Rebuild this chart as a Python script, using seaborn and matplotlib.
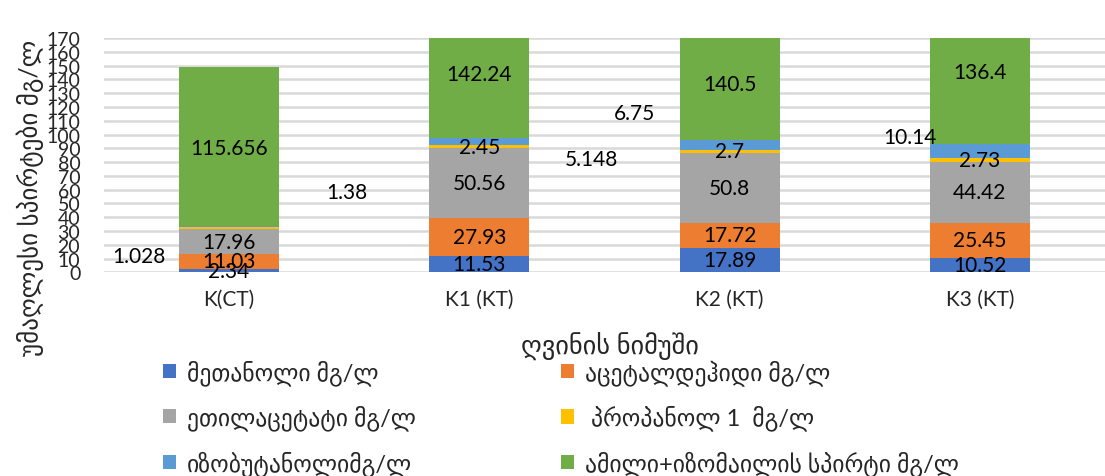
import matplotlib
matplotlib.use("Agg")
import matplotlib.pyplot as plt
import seaborn as sns
import numpy as np
from matplotlib.patches import Patch

categories = ["K(CT)", "K1 (KT)", "K2 (KT)", "K3 (KT)"]
methanol = [2.34, 11.53, 17.89, 10.52]
acetaldehyde = [11.03, 27.93, 17.72, 25.45]
ethyl_acetate = [17.96, 50.56, 50.8, 44.42]
propanol = [1.38, 2.45, 2.7, 2.73]
isobutanol = [1.028, 5.148, 6.75, 10.14]
amyl = [115.656, 142.24, 140.5, 136.4]

series_names = [
    "მეთანოლი მგ/ლ",
    "აცეტალდეჰიდი მგ/ლ",
    "ეთილაცეტატი მგ/ლ",
    " პროპანოლ 1  მგ/ლ",
    "იზობუტანოლიმგ/ლ",
    "ამილი+იზომაილის სპირტი მგ/ლ",
]
yticks = list(range(0, 171, 10))

sns.set_theme(style="white")
plt.rcParams["font.family"] = ["Lato", "DejaVu Sans"]

colors = ["#4472C4", "#ED7D31", "#A5A5A5", "#FFC000", "#5B9BD5", "#70AD47"]
series = [methanol, acetaldehyde, ethyl_acetate, propanol, isobutanol, amyl]
cum = np.cumsum(np.array(series), axis=0)

fig = plt.figure(figsize=(11.05, 4.77), dpi=100)
ax = fig.add_axes([0.094, 0.427, 0.906, 0.491])

for i in reversed(range(len(series))):
    sns.barplot(x=categories, y=cum[i], color=colors[i], saturation=1,
                width=0.4, errorbar=None, linewidth=0, ax=ax, zorder=3)

ax.set_ylim(0, 170)
ax.set_xlim(-0.5, 3.5)
ax.set_yticks(yticks)
ax.set_yticklabels([str(t) for t in yticks], fontsize=14)
ax.tick_params(axis="y", length=0, pad=17)
ax.tick_params(axis="x", length=0, pad=12, labelsize=15)
ax.yaxis.grid(True, color="#d9d9d9", linewidth=1.8, zorder=0)
ax.set_axisbelow(True)
for s in ax.spines.values():
    s.set_visible(False)

lab_kw = dict(ha="center", va="center", fontsize=15, color="black", zorder=5)
# inside labels (centered in segment)
for k in range(3):
    for j in range(4):
        bottom = cum[k - 1][j] if k > 0 else 0
        ax.text(j, bottom + series[k][j] / 2, f"{series[k][j]:g}", **lab_kw)
for j in range(1, 4):
    ax.text(j, cum[2][j] + propanol[j] / 2, f"{propanol[j]:g}", **lab_kw)
amyl_label_y = [90, 144, 137, 145.5]
for j in range(4):
    ax.text(j, amyl_label_y[j], f"{amyl[j]:g}", **lab_kw)
# displaced labels
outside = [(-0.36, 11.8, isobutanol[0]),
           (0.47, 58.3, propanol[0]),
           (1.45, 82.3, isobutanol[1]),
           (1.62, 115.4, isobutanol[2]),
           (2.72, 98.3, isobutanol[3])]
for x, y, v in outside:
    ax.text(x, y, f"{v:g}", **lab_kw)

ax.set_xlabel("")
ax.set_ylabel("")
fig.text(0.552, 1 - 347 / 477, "ღვინის ნიმუში", ha="center", va="center", fontsize=19)
fig.text(30 / 1105, 1 - 198 / 477, "უმაღლესი სპირტები მგ/ლ", ha="center", va="center",
         rotation=90, fontsize=18)

handles = [Patch(facecolor=c, edgecolor="none") for c in colors]
leg_kw = dict(loc="upper left", frameon=False, fontsize=17, handlelength=0.55,
              handleheight=0.55, handletextpad=0.45, labelspacing=0.84, borderaxespad=0, borderpad=0)
fig.legend([handles[0], handles[2], handles[4]], [series_names[0], series_names[2], series_names[4]],
           bbox_to_anchor=(163 / 1105, 1 - 360 / 477), **leg_kw)
fig.legend([handles[1], handles[3], handles[5]], [series_names[1], series_names[3], series_names[5]],
           bbox_to_anchor=(561 / 1105, 1 - 360 / 477), **leg_kw)

fig.savefig("out.png", dpi=100)
